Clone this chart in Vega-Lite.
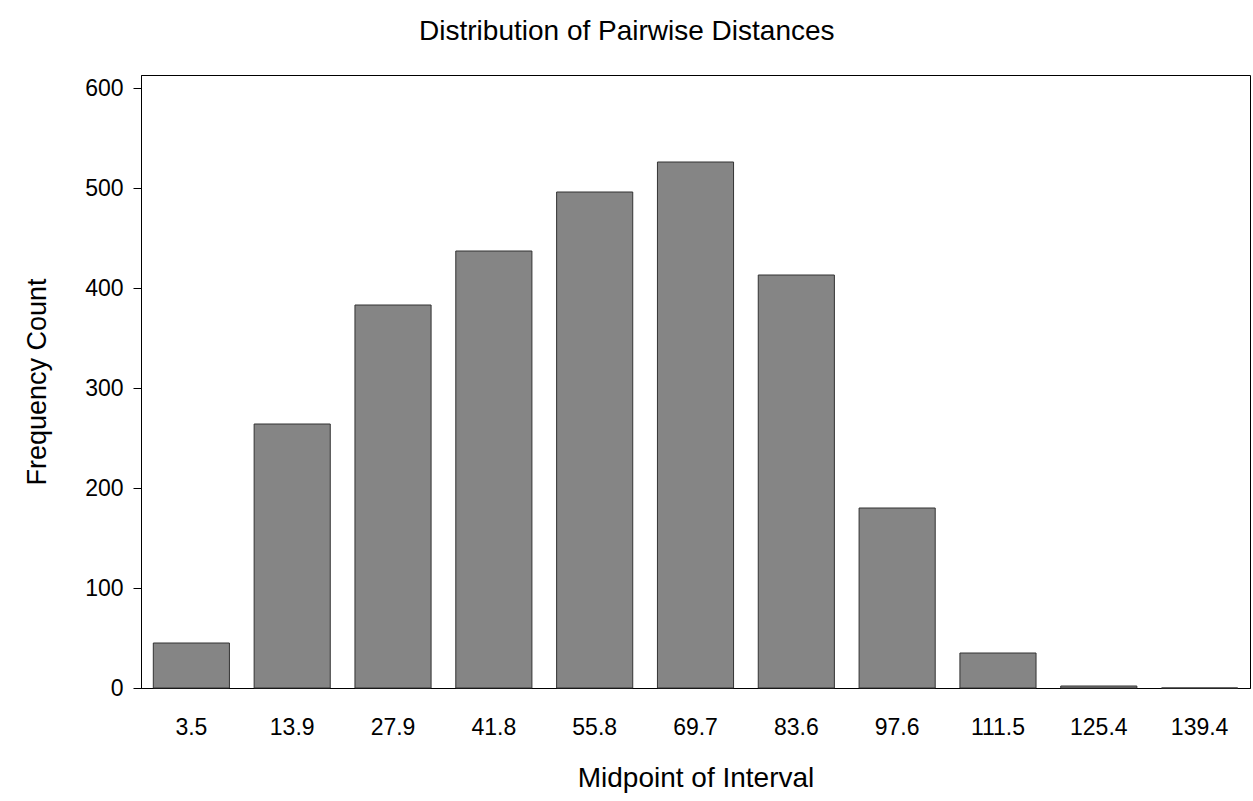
{
  "$schema": "https://vega.github.io/schema/vega-lite/v6.json",
  "width": 1109,
  "height": 613,
  "autosize": {"type": "none"},
  "padding": {"left": 141, "top": 75, "right": 3, "bottom": 113},
  "background": "white",
  "title": {
    "text": "Distribution of Pairwise Distances",
    "font": "Liberation Sans",
    "fontSize": 28,
    "fontWeight": "normal",
    "color": "black",
    "anchor": "middle",
    "frame": "bounds",
    "offset": 29,
    "dx": -10
  },
  "data": {
    "values": [
      {"midpoint": "3.5", "count": 45},
      {"midpoint": "13.9", "count": 264},
      {"midpoint": "27.9", "count": 383},
      {"midpoint": "41.8", "count": 437},
      {"midpoint": "55.8", "count": 496},
      {"midpoint": "69.7", "count": 526},
      {"midpoint": "83.6", "count": 413},
      {"midpoint": "97.6", "count": 180},
      {"midpoint": "111.5", "count": 35},
      {"midpoint": "125.4", "count": 2},
      {"midpoint": "139.4", "count": 0}
    ]
  },
  "mark": {"type": "bar", "fill": "#858585", "stroke": "#333333", "strokeWidth": 1},
  "encoding": {
    "x": {
      "field": "midpoint",
      "type": "ordinal",
      "sort": null,
      "scale": {"paddingInner": 0.245, "paddingOuter": 0.122},
      "axis": {
        "title": "Midpoint of Interval",
        "labelAngle": 0,
        "ticks": false,
        "tickSize": 0,
        "domainColor": "black",
        "labelFont": "Liberation Sans",
        "labelFontSize": 23,
        "labelColor": "black",
        "labelPadding": 28,
        "titleFont": "Liberation Sans",
        "titleFontSize": 28,
        "titleFontWeight": "normal",
        "titleColor": "black",
        "titlePadding": 25
      }
    },
    "y": {
      "field": "count",
      "type": "quantitative",
      "scale": {"domain": [0, 613], "nice": false},
      "axis": {
        "values": [0, 100, 200, 300, 400, 500, 600],
        "title": "Frequency Count",
        "grid": false,
        "tickSize": 8,
        "tickColor": "black",
        "domainColor": "black",
        "labelFont": "Liberation Sans",
        "labelFontSize": 23,
        "labelColor": "black",
        "labelPadding": 10,
        "titleFont": "Liberation Sans",
        "titleFontSize": 27,
        "titleFontWeight": "normal",
        "titleColor": "black",
        "titlePadding": 33
      }
    }
  },
  "config": {"view": {"stroke": "black", "strokeWidth": 1}}
}
